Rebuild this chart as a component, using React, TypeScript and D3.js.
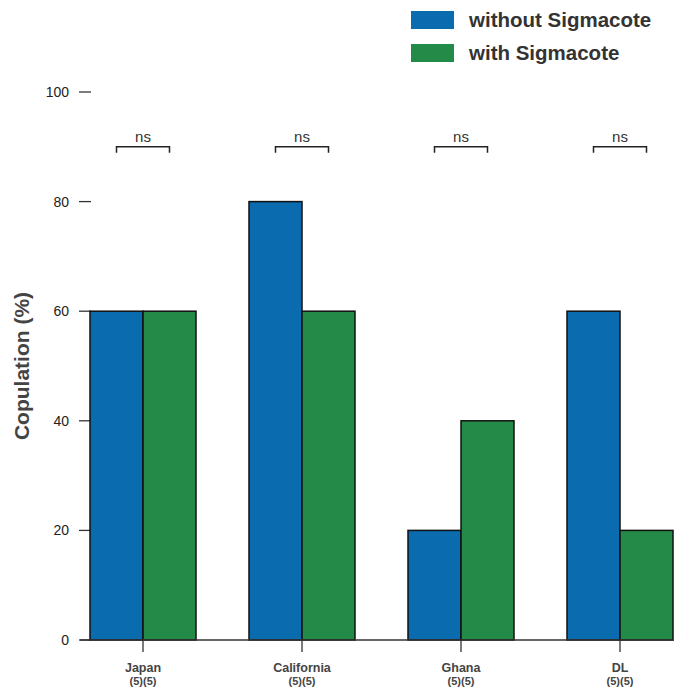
import * as d3 from 'd3';
import React from 'react';

// data
const categories = ['Japan', 'California', 'Ghana', 'DL'];
const sampleLabels = ['(5)(5)', '(5)(5)', '(5)(5)', '(5)(5)'];
const seriesNames = ['without Sigmacote', 'with Sigmacote'];
const withoutSigmacote = [60, 80, 20, 60];
const withSigmacote = [60, 60, 40, 20];
const significance = ['ns', 'ns', 'ns', 'ns'];
const yTicks = [0, 20, 40, 60, 80, 100];

const colors = ['#0a6bae', '#238a47'];
const W = 674;
const H = 693;

export default function App() {
    const y = d3.scaleLinear().domain([0, 100]).range([640, 92]);
    const x = d3.scaleBand<string>()
        .domain(categories)
        .range([90, 673])
        .paddingInner(1 / 3)
        .paddingOuter(0);
    const inner = d3.scaleBand<string>()
        .domain(seriesNames)
        .range([0, x.bandwidth()]);

    const series = [withoutSigmacote, withSigmacote];
    const font = '"Liberation Sans", Arial, sans-serif';
    const bracketY = 90;

    return (
        <svg width={W} height={H} style={{ position: 'absolute', left: 0, top: 0, background: '#fff' }}
            fontFamily={font}>
            {/* y ticks, no spine */}
            {yTicks.map(t => (
                <g key={t} transform={'translate(0,' + y(t) + ')'}>
                    <line x1={79} x2={91} stroke="#333" strokeWidth={1.3} />
                    <text x={69} dy="0.35em" textAnchor="end" fontSize={14} fill="#222">{t}</text>
                </g>
            ))}
            <text transform={'translate(29,' + y(50) + ') rotate(-90)'} textAnchor="middle"
                fontSize={21} fontWeight="bold" fill="#444">Copulation (%)</text>

            {/* bars */}
            {categories.map((c, i) => (
                <g key={c} transform={'translate(' + x(c) + ',0)'}>
                    {seriesNames.map((s, j) => (
                        <rect key={s}
                            x={inner(s)}
                            y={y(series[j][i])}
                            width={inner.bandwidth()}
                            height={y(0) - y(series[j][i])}
                            fill={colors[j]}
                            stroke="#111"
                            strokeWidth={1.5} />
                    ))}
                </g>
            ))}

            {/* x axis */}
            <line x1={80} x2={W + 10} y1={y(0)} y2={y(0)} stroke="#333" strokeWidth={1.5} />
            {categories.map((c, i) => {
                const cx = (x(c) as number) + x.bandwidth() / 2;
                return (
                    <g key={c} transform={'translate(' + cx + ',0)'}>
                        <line y1={y(0)} y2={y(0) + 12} stroke="#333" strokeWidth={1.3} />
                        <text y={672} textAnchor="middle" fontSize={12.5} fontWeight="bold" fill="#444">{c}</text>
                        <text y={685} textAnchor="middle" fontSize={11} fontWeight="bold" fill="#444">{sampleLabels[i]}</text>
                    </g>
                );
            })}

            {/* significance brackets */}
            {categories.map((c, i) => {
                const x0 = (x(c) as number) + (inner(seriesNames[0]) as number) + inner.bandwidth() / 2;
                const x1 = (x(c) as number) + (inner(seriesNames[1]) as number) + inner.bandwidth() / 2;
                const yb = y(bracketY);
                return (
                    <g key={c}>
                        <path d={'M' + x0 + ',' + (yb + 6) + 'V' + yb + 'H' + x1 + 'V' + (yb + 6)}
                            fill="none" stroke="#222" strokeWidth={1.5} />
                        <text x={(x0 + x1) / 2} y={yb - 5} textAnchor="middle" fontSize={15} fill="#333">{significance[i]}</text>
                    </g>
                );
            })}

            {/* legend */}
            {seriesNames.map((s, j) => (
                <g key={s} transform={'translate(411,' + (11 + j * 33) + ')'}>
                    <rect width={43} height={18} fill={colors[j]} />
                    <text x={58} y={9} dy="0.36em" fontSize={20.5} fontWeight="bold" fill="#333">{s}</text>
                </g>
            ))}
        </svg>
    );
}
